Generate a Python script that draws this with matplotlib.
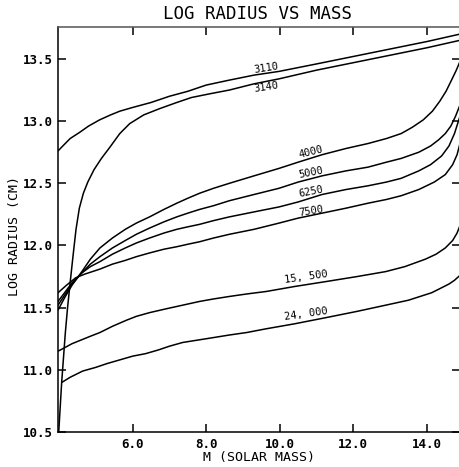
import matplotlib
matplotlib.use("Agg")
import matplotlib.pyplot as plt

# ---- data ----
m_3110 = [3.97, 4.1, 4.3, 4.56, 4.8, 5.1, 5.4, 5.65, 6.0, 6.5, 7.0, 7.5, 8.0, 8.63, 9.3, 9.98, 11.0, 12.0, 13.0, 14.0, 14.9]
r_3110 = [12.76, 12.80, 12.86, 12.91, 12.96, 13.01, 13.05, 13.08, 13.11, 13.15, 13.20, 13.24, 13.29, 13.33, 13.37, 13.40, 13.46, 13.52, 13.58, 13.64, 13.70]

m_3140 = [3.99, 4.03, 4.07, 4.12, 4.17, 4.23, 4.3, 4.38, 4.46, 4.55, 4.66, 4.78, 4.95, 5.15, 5.38, 5.65, 5.92, 6.3, 6.73, 7.2, 7.6, 8.1, 8.63, 9.3, 9.98, 11.0, 12.0, 13.0, 14.0, 14.9]
r_3140 = [10.50, 10.70, 10.90, 11.10, 11.30, 11.50, 11.70, 11.92, 12.13, 12.30, 12.42, 12.51, 12.61, 12.70, 12.79, 12.90, 12.98, 13.05, 13.10, 13.15, 13.19, 13.22, 13.25, 13.30, 13.34, 13.41, 13.47, 13.53, 13.59, 13.65]

m_4000 = [3.97, 4.15, 4.35, 4.62, 4.85, 5.11, 5.45, 5.8, 6.1, 6.46, 6.85, 7.2, 7.5, 7.82, 8.2, 8.63, 9.3, 9.98, 10.5, 11.15, 11.8, 12.4, 12.9, 13.3, 13.6, 13.9, 14.15, 14.35, 14.52, 14.67, 14.8, 14.9]
r_4000 = [11.48, 11.58, 11.68, 11.79, 11.89, 11.98, 12.06, 12.13, 12.18, 12.23, 12.29, 12.34, 12.38, 12.42, 12.46, 12.50, 12.56, 12.62, 12.67, 12.73, 12.78, 12.82, 12.86, 12.90, 12.95, 13.01, 13.08, 13.16, 13.24, 13.33, 13.41, 13.48]

m_5000 = [3.97, 4.15, 4.35, 4.62, 4.85, 5.11, 5.45, 5.8, 6.1, 6.46, 6.85, 7.2, 7.5, 7.82, 8.2, 8.63, 9.3, 9.98, 10.5, 11.15, 11.8, 12.4, 12.9, 13.3, 13.78, 14.1, 14.32, 14.5, 14.65, 14.78, 14.9]
r_5000 = [11.52, 11.60, 11.69, 11.78, 11.85, 11.91, 11.98, 12.04, 12.09, 12.14, 12.19, 12.23, 12.26, 12.29, 12.32, 12.36, 12.41, 12.46, 12.51, 12.56, 12.60, 12.63, 12.67, 12.70, 12.75, 12.80, 12.85, 12.90, 12.96, 13.04, 13.13]

m_6250 = [3.97, 4.15, 4.35, 4.62, 4.85, 5.11, 5.45, 5.8, 6.1, 6.46, 6.85, 7.2, 7.5, 7.82, 8.2, 8.63, 9.3, 9.98, 10.5, 11.15, 11.8, 12.4, 12.9, 13.3, 13.78, 14.1, 14.4, 14.6, 14.75, 14.9]
r_6250 = [11.55, 11.62, 11.70, 11.78, 11.83, 11.87, 11.93, 11.98, 12.02, 12.06, 12.10, 12.13, 12.15, 12.17, 12.20, 12.23, 12.27, 12.31, 12.35, 12.41, 12.45, 12.48, 12.51, 12.54, 12.60, 12.65, 12.72, 12.80, 12.90, 13.04]

m_7500 = [3.97, 4.2, 4.45, 4.7, 5.11, 5.45, 5.8, 6.1, 6.46, 6.85, 7.2, 7.5, 7.82, 8.2, 8.63, 9.3, 9.98, 10.5, 11.15, 11.8, 12.4, 12.9, 13.3, 13.78, 14.2, 14.5, 14.7, 14.82, 14.9]
r_7500 = [11.62, 11.68, 11.74, 11.77, 11.81, 11.85, 11.88, 11.91, 11.94, 11.97, 11.99, 12.01, 12.03, 12.06, 12.09, 12.13, 12.18, 12.22, 12.26, 12.30, 12.34, 12.37, 12.40, 12.45, 12.51, 12.57, 12.65, 12.73, 12.82]

m_15500 = [3.97, 4.1, 4.35, 4.6, 4.85, 5.11, 5.45, 5.84, 6.1, 6.46, 6.9, 7.36, 7.82, 8.2, 8.63, 9.1, 9.63, 10.4, 11.26, 12.1, 12.88, 13.4, 13.96, 14.25, 14.5, 14.7, 14.82, 14.9]
r_15500 = [11.15, 11.17, 11.21, 11.24, 11.27, 11.30, 11.35, 11.40, 11.43, 11.46, 11.49, 11.52, 11.55, 11.57, 11.59, 11.61, 11.63, 11.67, 11.71, 11.75, 11.79, 11.83, 11.89, 11.93, 11.98, 12.04, 12.10, 12.16]

m_24000 = [4.08, 4.3, 4.64, 5.0, 5.3, 5.65, 6.0, 6.35, 6.7, 7.0, 7.36, 8.0, 8.63, 9.1, 9.63, 10.4, 11.26, 12.1, 12.88, 13.5, 14.13, 14.4, 14.6, 14.75, 14.9]
r_24000 = [10.90, 10.94, 10.99, 11.02, 11.05, 11.08, 11.11, 11.13, 11.16, 11.19, 11.22, 11.25, 11.28, 11.30, 11.33, 11.37, 11.42, 11.47, 11.52, 11.56, 11.62, 11.66, 11.69, 11.72, 11.76]

series = [
    (m_3110, r_3110), (m_3140, r_3140), (m_4000, r_4000), (m_5000, r_5000),
    (m_6250, r_6250), (m_7500, r_7500), (m_15500, r_15500), (m_24000, r_24000),
]

curve_labels = ["3110", "3140", "4000", "5000", "6250", "7500", "15, 500", "24, 000"]
label_m = [9.63, 9.63, 10.85, 10.85, 10.85, 10.85, 10.72, 10.72]
label_r = [13.43, 13.27, 12.75, 12.585, 12.435, 12.275, 11.75, 11.445]
label_rot = [9, 9, 14, 11, 11, 9, 8, 8]

x_ticks = [6.0, 8.0, 10.0, 12.0, 14.0]
x_ticklabels = ["6.0", "8.0", "10.0", "12.0", "14.0"]
y_ticks = [10.5, 11.0, 11.5, 12.0, 12.5, 13.0, 13.5]
y_ticklabels = ["10.5", "11.0", "11.5", "12.0", "12.5", "13.0", "13.5"]

# ---- figure ----
font = "DejaVu Sans Mono"
W, H = 460, 467
fig = plt.figure(figsize=(W / 100, H / 100), dpi=100)
ax = fig.add_axes([58 / W, 1 - 432 / H, (460 - 58) / W, (432 - 27) / H])

for m, r in series:
    ax.plot(m, r, color="black", lw=1.1, solid_joinstyle="round", solid_capstyle="round")

for t, xm, yr, rot in zip(curve_labels, label_m, label_r, label_rot):
    ax.text(xm, yr, t, fontsize=7.5, family=font, ha="center", va="center",
            rotation=rot, color="black")

ax.set_xlim(3.97, 14.9)
ax.set_ylim(10.5, 13.757)
ax.set_xticks(x_ticks)
ax.set_xticklabels(x_ticklabels, family=font, fontsize=9, fontweight="bold")
ax.set_yticks(y_ticks)
ax.set_yticklabels(y_ticklabels, family=font, fontsize=9, fontweight="bold")
ax.tick_params(axis="x", direction="in", length=6, width=1.1, top=True, pad=4)
ax.tick_params(axis="y", direction="in", length=6, width=1.1, right=True, pad=4)
for s in ax.spines.values():
    s.set_linewidth(1.1)
ax.spines["top"].set_color("#555555")

fig.text(259 / W, 1 - 457 / H, "M (SOLAR MASS)", family=font, fontsize=9.5,
         ha="center", va="center")
fig.text(15 / W, 1 - 236 / H, "LOG RADIUS (CM)", family=font, fontsize=9.5,
         ha="center", va="center", rotation=90)
fig.text(258 / W, 1 - 14 / H, "LOG RADIUS VS MASS", family=font,
         fontsize=12.5, ha="center", va="center")

fig.savefig("out.png", dpi=100)
